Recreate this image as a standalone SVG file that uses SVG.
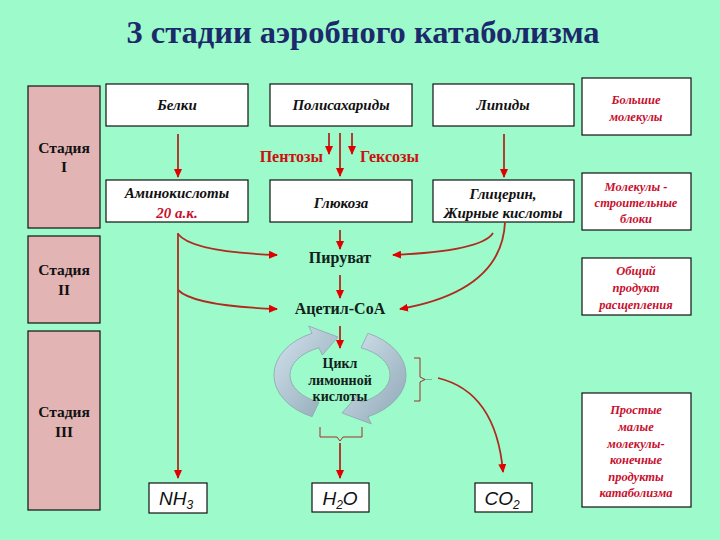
<svg xmlns="http://www.w3.org/2000/svg" width="720" height="540" viewBox="0 0 720 540">
<style>
  .bg{fill:#9CFACB}
  .stage{fill:#E2B4B4;stroke:#111;stroke-width:1.2}
  .box{fill:#fff;stroke:#111;stroke-width:1.2}
  .t{font-family:"Liberation Serif","Times New Roman",serif;text-anchor:middle;fill:#111}
  .it{font-style:italic;font-weight:bold;font-size:15px}
  .ak{fill:#C8102E}
  .st{font-weight:bold;font-size:15.5px}
  .red{font-family:"Liberation Serif","Times New Roman",serif;text-anchor:middle;font-style:italic;font-weight:bold;font-size:12.5px;fill:#C8102E}
  .lbl{font-family:"Liberation Serif","Times New Roman",serif;font-weight:bold;font-size:16px;fill:#CC1010}
  .mid{font-family:"Liberation Serif","Times New Roman",serif;font-weight:bold;text-anchor:middle;fill:#13201a}
  .chem{font-family:"Liberation Sans",Arial,sans-serif;font-style:italic;font-size:19px;text-anchor:middle;fill:#111}
  .ln{fill:none;stroke:#B02A20;stroke-width:1.8}
  .br{fill:none;stroke:#A03028;stroke-width:1}
  .cyc{fill:url(#cg);stroke:#8FA3B0;stroke-width:0.8}
</style>
<defs>
  <marker id="ah" markerUnits="userSpaceOnUse" markerWidth="9" markerHeight="8" refX="8" refY="4" orient="auto">
    <path d="M0,0 L9,4 L0,8 Z" fill="#E00000"/>
  </marker>
  <linearGradient id="cg" x1="0" y1="0" x2="1" y2="1">
    <stop offset="0" stop-color="#D3E4EE"/>
    <stop offset="1" stop-color="#8FA6B5"/>
  </linearGradient>
</defs>
<rect class="bg" x="0" y="0" width="720" height="540"/>
<text x="363" y="43" font-family="'Liberation Serif','Times New Roman',serif" font-size="32.5" font-weight="bold" text-anchor="middle" fill="#1C2A6B">3 стадии аэробного катаболизма</text>

<g id="stage1"><rect class="stage" x="28" y="86" width="72" height="142"/><text class="t st" x="64" y="153">Стадия</text><text class="t st" x="64" y="172">I</text></g>
<g id="stage2"><rect class="stage" x="28" y="236" width="72" height="87"/><text class="t st" x="64" y="275">Стадия</text><text class="t st" x="64" y="295">II</text></g>
<g id="stage3"><rect class="stage" x="28" y="331" width="72" height="179"/><text class="t st" x="64" y="417">Стадия</text><text class="t st" x="64" y="437">III</text></g>

<g id="belki"><rect class="box" x="106" y="84" width="142" height="42"/><text class="t it" x="177" y="110">Белки</text></g>
<g id="polysaccharides"><rect class="box" x="270" y="84" width="142" height="42"/><text class="t it" x="341" y="110">Полисахариды</text></g>
<g id="lipids"><rect class="box" x="433" y="84" width="141" height="42"/><text class="t it" x="503" y="110">Липиды</text></g>
<g id="big"><rect class="box" x="582" y="78" width="109" height="57"/><text class="red" x="636" y="104">Большие</text><text class="red" x="636" y="121">молекулы</text></g>

<g id="aminoacids"><rect class="box" x="106" y="180" width="142" height="42"/><text class="t it" x="177" y="198">Аминокислоты</text><text class="t it ak" x="177" y="218">20 а.к.</text></g>
<g id="glucose"><rect class="box" x="270" y="180" width="142" height="42"/><text class="t it" x="341" y="208">Глюкоза</text></g>
<g id="glycerol"><rect class="box" x="433" y="180" width="141" height="42"/><text class="t it" x="503" y="199">Глицерин,</text><text class="t it" x="503" y="218">Жирные кислоты</text></g>
<g id="blocks"><rect class="box" x="582" y="173" width="109" height="57"/><text class="red" x="636" y="191">Молекулы -</text><text class="red" x="636" y="207">строительные</text><text class="red" x="636" y="223">блоки</text></g>

<g id="pentoses"><text class="lbl" x="323" y="162" text-anchor="end">Пентозы</text></g>
<g id="hexoses"><text class="lbl" x="360" y="162">Гексозы</text></g>
<g id="pyruvate"><text class="mid" x="340" y="263" font-size="16">Пируват</text></g>
<g id="acetylcoa"><text class="mid" x="340" y="314" font-size="16">Ацетил-СоА</text></g>

<g id="common"><rect class="box" x="582" y="258" width="109" height="57"/><text class="red" x="636" y="275">Общий</text><text class="red" x="636" y="292">продукт</text><text class="red" x="636" y="309">расщепления</text></g>
<g id="simple"><rect class="box" x="582" y="393" width="109" height="114"/><text class="red" x="636" y="414">Простые</text><text class="red" x="636" y="431">малые</text><text class="red" x="636" y="448">молекулы-</text><text class="red" x="636" y="464">конечные</text><text class="red" x="636" y="481">продукты</text><text class="red" x="636" y="497">катаболизма</text></g>

<g id="cycle">
  <path class="cyc" d="M312.1,416.7 A66,46 0 0 1 312.1,333.3 L308.7,326.1 L338,337 L322.3,355.1 L318.9,347.8 A50,30 0 0 0 318.9,402.2 Z"/>
  <path class="cyc" d="M367.9,333.3 A66,46 0 0 1 367.9,416.7 L371.3,423.9 L342,413 L357.7,394.9 L361.1,402.2 A50,30 0 0 0 361.1,347.8 Z"/>
  <text class="mid" x="340" y="368" font-size="14">Цикл</text>
  <text class="mid" x="340" y="385" font-size="14">лимонной</text>
  <text class="mid" x="340" y="401" font-size="14">кислоты</text>
</g>

<g id="nh3"><rect class="box" x="149" y="483" width="58" height="30"/><text class="chem" x="176" y="505">NH<tspan font-size="12" dy="4">3</tspan></text></g>
<g id="h2o"><rect class="box" x="312" y="483" width="57" height="29"/><text class="chem" x="340" y="505">H<tspan font-size="12" dy="4">2</tspan><tspan dy="-4">O</tspan></text></g>
<g id="co2"><rect class="box" x="475" y="483" width="57" height="29"/><text class="chem" x="502" y="505">CO<tspan font-size="12" dy="4">2</tspan></text></g>

<g id="connectors">
  <line class="ln" x1="178" y1="134" x2="178" y2="177" marker-end="url(#ah)"/>
  <line class="ln" x1="340" y1="133" x2="340" y2="176" marker-end="url(#ah)"/>
  <line class="ln" x1="329" y1="133" x2="329" y2="154" marker-end="url(#ah)"/>
  <line class="ln" x1="352" y1="133" x2="352" y2="154" marker-end="url(#ah)"/>
  <line class="ln" x1="504" y1="134" x2="504" y2="177" marker-end="url(#ah)"/>
  <line class="ln" x1="340" y1="230" x2="340" y2="249" marker-end="url(#ah)"/>
  <line class="ln" x1="340" y1="275" x2="340" y2="298" marker-end="url(#ah)"/>
  <line class="ln" x1="340" y1="326" x2="340" y2="348" marker-end="url(#ah)"/>
  <line class="ln" x1="178" y1="233" x2="178" y2="478" marker-end="url(#ah)"/>
  <path class="ln" d="M178,234 Q192,252 277,255" marker-end="url(#ah)"/>
  <path class="ln" d="M178,290 Q194,306 277,309" marker-end="url(#ah)"/>
  <path class="ln" d="M493,233 Q482,251 393,255" marker-end="url(#ah)"/>
  <path class="ln" d="M505,222 Q502,291 400,309" marker-end="url(#ah)"/>
  <path class="br" d="M414,358 L420,358 L420,377 L425,379.5 L420,382 L420,401 L414,401"/>
  <line x1="425" y1="379.5" x2="432" y2="379.5" stroke="#7A9A90" stroke-width="0.8"/>
  <path class="ln" d="M438,378 Q496,392 503,472" marker-end="url(#ah)"/>
  <path class="br" d="M320,427 L320,437 L337,437 L340,441 L343,437 L362,437 L362,427"/>
  <line class="ln" x1="340" y1="443" x2="340" y2="478" marker-end="url(#ah)"/>
</g>
</svg>
